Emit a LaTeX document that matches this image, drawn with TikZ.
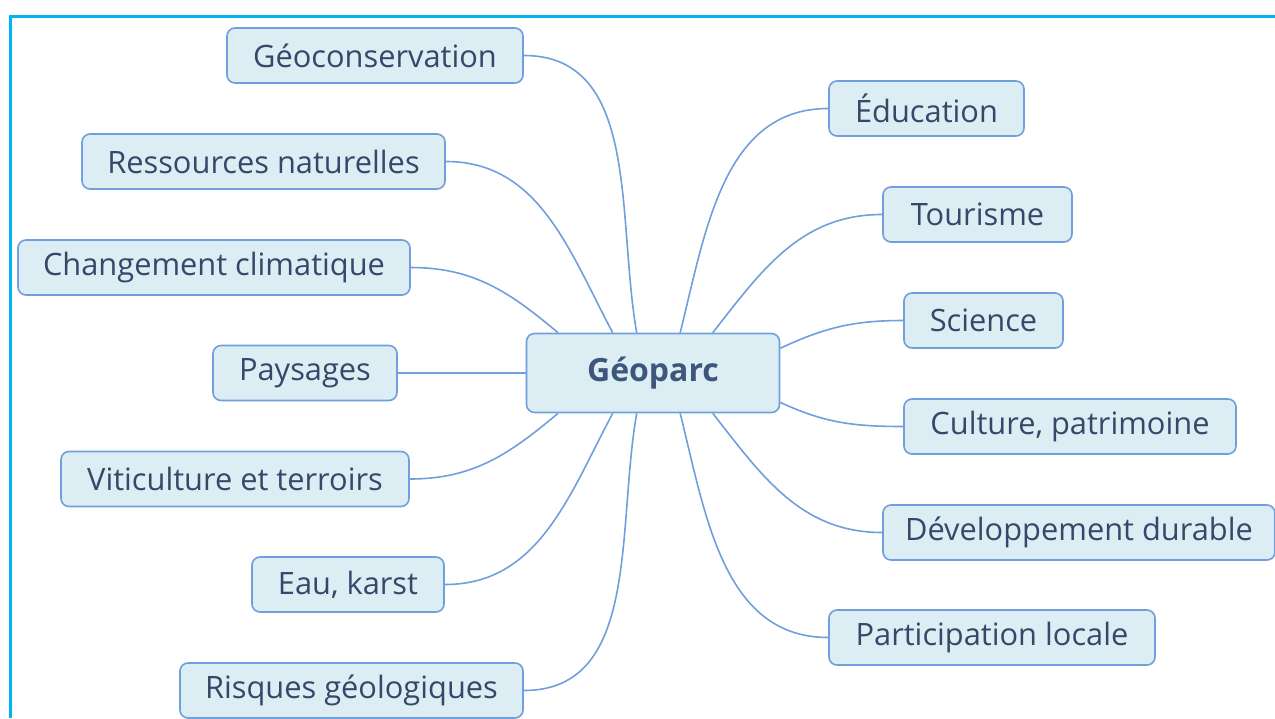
\documentclass[tikz,border=0pt]{standalone}
\usepackage{fontspec}
\setmainfont{Open Sans}
\usepackage{tikz}
\definecolor{boxfill}{HTML}{DCEDF4}
\definecolor{boxline}{HTML}{6F9FDC}
\definecolor{boxtext}{HTML}{34496A}
\definecolor{frameline}{HTML}{00B4F0}

\begin{document}
\begin{tikzpicture}[
  x=0.5pt,y=-0.5pt,
  leaf/.style={draw=boxline,fill=boxfill,thick,rounded corners=4pt,
    minimum height=27.5pt,inner sep=0pt,text=boxtext,
    font=\fontsize{15.4}{17}\selectfont},
  hub/.style={leaf,minimum width=126.5pt,minimum height=39.5pt,
    font=\fontsize{16}{18}\selectfont\bfseries,text=boxtext!85!boxline},
  link/.style={draw=boxline,thick}
]
\useasboundingbox (0,0) rectangle (1275,718);
\draw[frameline,line width=1.5pt] (10,718) -- (10,16) -- (1275,16);

\node[hub] (geoparc) at (653,373) {Géoparc};

% left side
\node[leaf,minimum width=148pt] (geocons) at (375,55.5) {Géoconservation};
\node[leaf,minimum width=181.5pt] (ressources) at (263.5,161.5) {Ressources naturelles};
\node[leaf,minimum width=196pt] (climat) at (214,267.5) {Changement climatique};
\node[leaf,minimum width=92pt] (paysages) at (305,373) {Paysages};
\node[leaf,minimum width=174pt] (viti) at (235,479) {Viticulture et terroirs};
\node[leaf,minimum width=96pt] (eau) at (348,584.5) {Eau, karst};
\node[leaf,minimum width=171.5pt] (risques) at (351.5,690.5) {Risques géologiques};

% right side
\node[leaf,minimum width=97.5pt] (education) at (926.5,108.5) {Éducation};
\node[leaf,minimum width=94.5pt] (tourisme) at (977.5,214.5) {Tourisme};
\node[leaf,minimum width=79.5pt] (science) at (983.5,320.5) {Science};
\node[leaf,minimum width=166pt] (culture) at (1070,426.5) {Culture, patrimoine};
\node[leaf,minimum width=196pt] (durable) at (1079,532.5) {Développement durable};
\node[leaf,minimum width=163pt] (participation) at (992,637.5) {Participation locale};

\draw[link] (geocons.east) to[out=0,in=100] (geoparc.112);
\draw[link] (ressources.east) to[out=0,in=118] (geoparc.135);
\draw[link] (climat.east) to[out=0,in=140] (geoparc.157);
\draw[link] (paysages.east) -- (geoparc.west);
\draw[link] (viti.east) to[out=0,in=-140] (geoparc.-157);
\draw[link] (eau.east) to[out=0,in=-118] (geoparc.-135);
\draw[link] (risques.east) to[out=0,in=-100] (geoparc.-112);

\draw[link] (geoparc.56) to[out=76,in=180] (education.west);
\draw[link] (geoparc.34) to[out=52,in=180] (tourisme.west);
\draw[link] (geoparc.11) to[out=25,in=180] (science.west);
\draw[link] (geoparc.-13) to[out=-25,in=180] (culture.west);
\draw[link] (geoparc.-34) to[out=-52,in=180] (durable.west);
\draw[link] (geoparc.-56) to[out=-76,in=180] (participation.west);
\end{tikzpicture}
\end{document}
